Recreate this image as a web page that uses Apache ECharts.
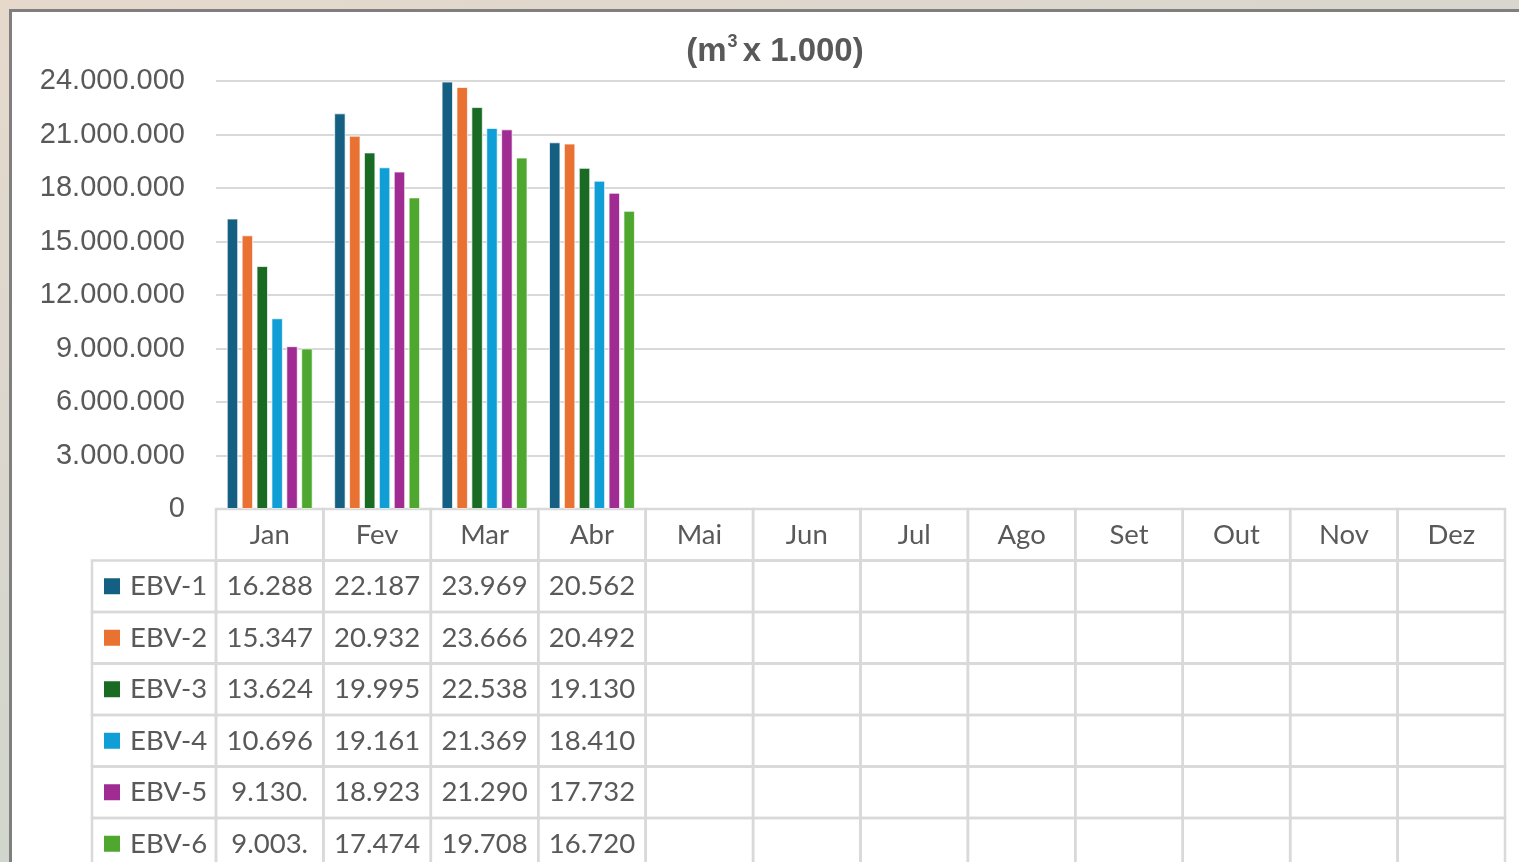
<!DOCTYPE html>
<html>
<head>
<meta charset="utf-8">
<script src="https://cdn.jsdelivr.net/npm/echarts@6/dist/echarts.min.js"></script>
<style>
  html, body { margin: 0; padding: 0; width: 1519px; height: 862px; overflow: hidden; }
  body { background: linear-gradient(160deg, #e6d9cc 0%, #d8d6ce 40%, #c4d7cb 100%); position: relative; }
  #frame { position: absolute; left: 9px; top: 9px; width: 1560px; height: 920px; background: #fff; border: 3px solid #7f7f7f; box-sizing: border-box; }
  #chart { position: absolute; left: 0; top: 0; width: 1519px; height: 920px; }
</style>
</head>
<body>
<div id="frame"></div>
<div id="chart"></div>
<script>
// ---- data (values in m³ x 1.000) ----
const months = ['Jan', 'Fev', 'Mar', 'Abr', 'Mai', 'Jun', 'Jul', 'Ago', 'Set', 'Out', 'Nov', 'Dez'];
const seriesNames = ['EBV-1', 'EBV-2', 'EBV-3', 'EBV-4', 'EBV-5', 'EBV-6'];
const ebv1 = [16288, 22187, 23969, 20562];
const ebv2 = [15347, 20932, 23666, 20492];
const ebv3 = [13624, 19995, 22538, 19130];
const ebv4 = [10696, 19161, 21369, 18410];
const ebv5 = [9130, 18923, 21290, 17732];
const ebv6 = [9003, 17474, 19708, 16720];
const yTicks = [0, 3000000, 6000000, 9000000, 12000000, 15000000, 18000000, 21000000, 24000000];
const colors = ['#156082', '#E97132', '#196B24', '#0F9ED5', '#A02B93', '#4EA72E'];
const scale = 1000;

const allSeries = [ebv1, ebv2, ebv3, ebv4, ebv5, ebv6];
const fmt = v => String(Math.round(v)).replace(/\B(?=(\d{3})+(?!\d))/g, '.');

const TABLE_FONT = '27.5px Lato, "Noto Sans", sans-serif';
const GRID_COLOR = '#d9d9d9';
const TEXT_COLOR = '#595959';

// table cell data: [monthIdx, rowIdx, text]; row 0 = header
const tableData = [];
months.forEach((m, mi) => {
  tableData.push([mi, 0, m]);
  allSeries.forEach((s, si) => {
    const v = s[mi];
    tableData.push([mi, si + 1, v == null ? '' : fmt(v * scale).slice(0, 6)]);
  });
});
const labelData = seriesNames.map((n, i) => [0, i, n]);

const chart = echarts.init(document.getElementById('chart'), null, { renderer: 'canvas' });

const barSeries = allSeries.map((s, i) => ({
  name: seriesNames[i],
  type: 'bar',
  xAxisIndex: 0,
  yAxisIndex: 0,
  data: s.map(v => v * scale),
  barCategoryGap: '20%',
  barGap: '30%',
  itemStyle: { color: colors[i], borderColor: 'rgba(255,255,255,0.7)', borderWidth: 1 }
}));

chart.setOption({
  animation: false,
  backgroundColor: 'transparent',
  graphic: [{
    type: 'text',
    x: 775, y: 52,
    style: {
      text: '{a|(m}{s|3}{a|x 1.000)}',
      align: 'center',
      verticalAlign: 'middle',
      rich: {
        a: { fontSize: 33, fontWeight: 'bold', fontFamily: '"Liberation Sans", Arial, sans-serif', fill: TEXT_COLOR, lineHeight: 38 },
        s: { fontSize: 18, fontWeight: 'bold', fontFamily: '"Liberation Sans", Arial, sans-serif', fill: TEXT_COLOR, lineHeight: 18, verticalAlign: 'top', padding: [0, 5, 0, 1] }
      }
    }
  }],
  grid: [
    { left: 216, right: 14, top: 81, height: 428 },
    { left: 216, right: 14, top: 509, height: 360.5 },
    { left: 92, width: 124, top: 560.5, height: 309 }
  ],
  xAxis: [
    { type: 'category', gridIndex: 0, data: months, axisLine: { show: false }, axisTick: { show: false }, axisLabel: { show: false } },
    { type: 'category', gridIndex: 1, data: months, show: false },
    { type: 'category', gridIndex: 2, data: ['label'], show: false }
  ],
  yAxis: [
    {
      type: 'value', gridIndex: 0, min: yTicks[0], max: yTicks[yTicks.length - 1], interval: yTicks[1] - yTicks[0],
      axisLine: { show: false }, axisTick: { show: false },
      axisLabel: { formatter: v => fmt(v), fontSize: 29, color: TEXT_COLOR, fontFamily: '"Liberation Sans", Arial, sans-serif', margin: 31 },
      splitLine: { lineStyle: { color: GRID_COLOR, width: 2 } }
    },
    { type: 'category', gridIndex: 1, data: ['hdr'].concat(seriesNames), inverse: true, show: false },
    { type: 'category', gridIndex: 2, data: seriesNames, inverse: true, show: false }
  ],
  series: barSeries.concat([
    {
      type: 'custom',
      xAxisIndex: 1, yAxisIndex: 1,
      silent: true,
      clip: false,
      data: tableData,
      renderItem: (params, api) => {
        const c = api.coord([api.value(0), api.value(1)]);
        const sz = api.size([1, 1]);
        const txt = tableData[params.dataIndex][2];
        return {
          type: 'group',
          children: [
            { type: 'rect', shape: { x: c[0] - sz[0] / 2, y: c[1] - sz[1] / 2, width: sz[0], height: sz[1] },
              style: { fill: 'none', stroke: GRID_COLOR, lineWidth: 2.5 } },
            { type: 'text', x: c[0], y: c[1],
              style: { text: txt, align: 'center', verticalAlign: 'middle', font: TABLE_FONT, fill: TEXT_COLOR } }
          ]
        };
      }
    },
    {
      type: 'custom',
      xAxisIndex: 2, yAxisIndex: 2,
      silent: true,
      clip: false,
      data: labelData,
      renderItem: (params, api) => {
        const c = api.coord([api.value(0), api.value(1)]);
        const sz = api.size([1, 1]);
        const left = c[0] - sz[0] / 2;
        const i = params.dataIndex;
        return {
          type: 'group',
          children: [
            { type: 'rect', shape: { x: left, y: c[1] - sz[1] / 2, width: sz[0], height: sz[1] },
              style: { fill: 'none', stroke: GRID_COLOR, lineWidth: 2.5 } },
            { type: 'rect', shape: { x: left + 12, y: c[1] - 8, width: 16, height: 16 },
              style: { fill: colors[i] } },
            { type: 'text', x: left + 38, y: c[1],
              style: { text: labelData[i][2], align: 'left', verticalAlign: 'middle', font: TABLE_FONT, fill: TEXT_COLOR } }
          ]
        };
      }
    }
  ])
});
</script>
</body>
</html>
